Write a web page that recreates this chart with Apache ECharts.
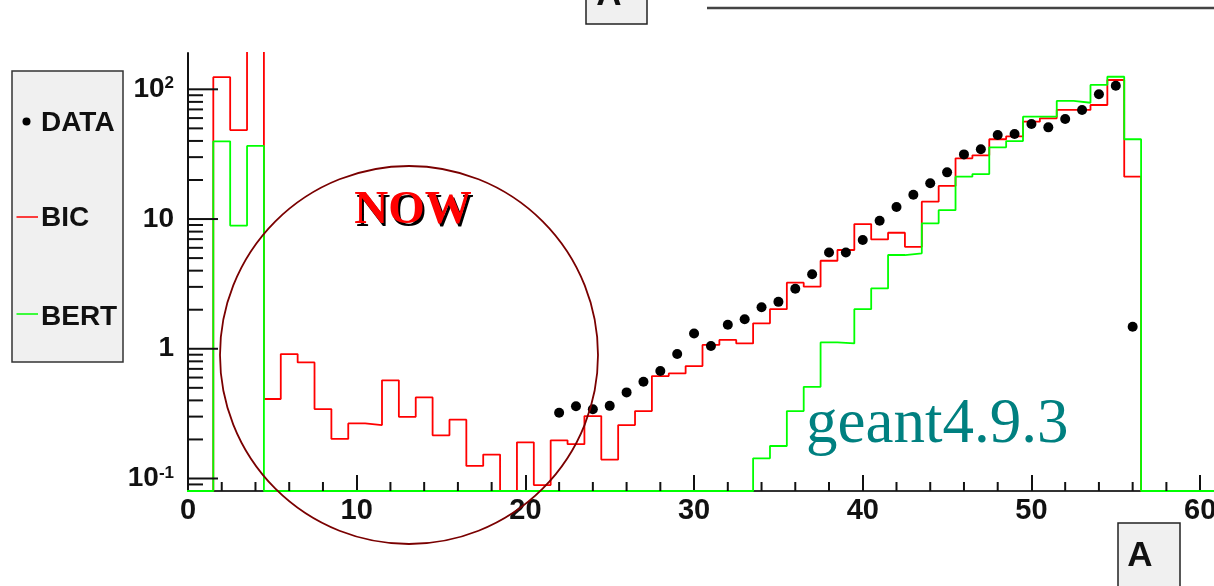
<!DOCTYPE html>
<html>
<head>
<meta charset="utf-8">
<script src="https://cdn.jsdelivr.net/npm/echarts@6/dist/echarts.min.js"></script>
<style>
  html, body { margin: 0; padding: 0; background: #fff; }
  #chart { width: 1214px; height: 586px; }
</style>
</head>
<body>
<div id="chart"></div>
<script>
// Histogram bins: unit width, centred on the integers 0..61
const binCenters = [0,1,2,3,4,5,6,7,8,9,10,11,12,13,14,15,16,17,18,19,20,
  21,22,23,24,25,26,27,28,29,30,31,32,33,34,35,36,37,38,39,40,
  41,42,43,44,45,46,47,48,49,50,51,52,53,54,55,56,57,58,59,60,61];

// BIC model prediction per bin
const bicValues = [0,0,124,48.5,300,0.41,0.91,0.785,0.343,0.202,0.266,0.258,0.571,0.299,0.422,0.215,0.284,0.125,0.153,0,0.19,
  0.089,0.197,0.184,0.303,0.140,0.258,0.331,0.616,0.646,0.736,1.07,1.17,1.10,1.57,2.02,3.23,3.01,4.77,5.77,9.15,
  6.97,7.84,6.11,13.6,18.0,29.4,31.0,41.2,43.4,56.3,59.8,69.3,69.3,75.7,118,21.2,0,0,0,0,0];

// BERT model prediction per bin
const bertValues = [0,0,39.7,8.9,36.6,0,0,0,0,0,0,0,0,0,0,0,0,0,0,0,0,
  0,0,0,0,0,0,0,0,0,0,0,0,0,0.143,0.178,0.331,0.509,1.12,1.10,2.02,
  2.92,5.28,5.44,9.26,11.7,21.2,22.2,35.7,39.9,61.5,61.5,81.3,78.8,108,125,41.2,0,0,0,0,0];

// Measured points
const dataX = [22,23,24,25,26,27,28,29,30,31,32,33,34,35,36,37,38,39,40,
  41,42,43,44,45,46,47,48,49,50,51,52,53,54,55,56];
const dataY = [0.321,0.361,0.342,0.363,0.461,0.557,0.673,0.91,1.31,1.05,1.53,1.69,2.09,2.30,2.90,3.75,5.53,5.53,6.89,
  9.70,12.4,15.4,18.9,22.9,31.5,34.5,44.4,45.2,54.0,50.9,59.0,69.3,91.5,106.6,1.48];

const seriesNames = ['DATA', 'BIC', 'BERT'];
const seriesColors = ['#000000', '#ff0000', '#00ff00'];

// Axis ranges and tick positions
const X_MIN = 0, X_MAX = 61, X_INTERVAL = 10;
const Y_MIN = 0.0801, Y_MAX = 190.5;
const xMinorTicks = [2,4,6,8,12,14,16,18,22,24,26,28,32,34,36,38,42,44,46,48,52,54,56,58];
const yDecades = [-2, -1, 0, 1, 2];

// Empty bins sit on the lower frame edge, as in a histogram drawn on a log scale
function histPoints(values) {
  const pts = [];
  const floor = v => (v > Y_MIN ? v : Y_MIN);
  for (let i = 0; i < binCenters.length; i++) {
    pts.push([binCenters[i] - 0.5, floor(values[i])]);
  }
  const last = binCenters.length - 1;
  pts.push([binCenters[last] + 0.5, floor(values[last])]);
  return pts;
}

const yTickData = [];
yDecades.forEach(e => {
  for (let k = 1; k <= 9; k++) {
    const v = k * Math.pow(10, e);
    if (v >= Y_MIN && v <= Y_MAX) yTickData.push([v, k === 1 ? 1 : 0]);
  }
});

const chart = echarts.init(document.getElementById('chart'), null, { renderer: 'canvas' });

const axisFont = 'Liberation Sans, Arial, Helvetica, sans-serif';
const serifFont = '"Liberation Serif", "Times New Roman", serif';

function powLabel(v) {
  const e = Math.log10(v);
  const r = Math.round(e);
  if (Math.abs(e - r) > 1e-6) return '';
  if (r === 0) return '{b|1}';
  if (r === 1) return '{b|10}';
  return '{b|10}{s|' + r + '}';
}

const option = {
  animation: false,
  backgroundColor: '#ffffff',
  grid: { left: 188, right: -3, top: 53, bottom: 95, outerBoundsMode: 'none', containLabel: false },
  xAxis: {
    type: 'value', min: X_MIN, max: X_MAX, interval: X_INTERVAL,
    axisLine: { show: true, onZero: false, lineStyle: { color: '#333333', width: 2 } },
    axisTick: { show: true, inside: true, length: 16, lineStyle: { color: '#111111', width: 2 } },
    axisLabel: {
      show: true, margin: 5, color: '#111111', fontFamily: axisFont, fontWeight: 'bold', fontSize: 29,
      showMaxLabel: true,
      formatter: v => (Math.abs(v % X_INTERVAL) < 1e-9 ? String(v) : '')
    },
    splitLine: { show: false }
  },
  yAxis: {
    type: 'log', logBase: 10, min: Y_MIN, max: Y_MAX,
    axisLine: { show: true, lineStyle: { color: '#111111', width: 2 } },
    axisTick: { show: false },
    axisLabel: {
      show: true, margin: 14, color: '#111111',
      formatter: powLabel,
      rich: {
        b: { fontFamily: axisFont, fontWeight: 'bold', fontSize: 28, color: '#111111' },
        s: { fontFamily: axisFont, fontWeight: 'bold', fontSize: 17, color: '#111111', verticalAlign: 'top', lineHeight: 17 }
      }
    },
    splitLine: { show: false }
  },
  series: [
    {
      name: seriesNames[1], type: 'line', step: 'end', z: 2,
      data: histPoints(bicValues), showSymbol: false, symbol: 'none',
      lineStyle: { color: seriesColors[1], width: 1.8, opacity: 1 }, clip: true
    },
    {
      name: seriesNames[2], type: 'line', step: 'end', z: 2,
      data: histPoints(bertValues), showSymbol: false, symbol: 'none',
      lineStyle: { color: seriesColors[2], width: 1.8, opacity: 1 }, clip: true
    },
    {
      name: seriesNames[0], type: 'scatter', z: 4,
      data: dataX.map((x, i) => [x, dataY[i]]),
      symbol: 'circle', symbolSize: 10,
      itemStyle: { color: seriesColors[0], opacity: 1 }
    },
    {
      // logarithmic ticks on the vertical axis
      type: 'custom', z: 3, silent: true, clip: false,
      data: yTickData,
      encode: { y: 0 },
      renderItem: (params, api) => {
        const p = api.coord([X_MIN, api.value(0)]);
        const len = api.value(1) ? 30 : 15;
        return { type: 'line', shape: { x1: p[0], y1: p[1], x2: p[0] + len, y2: p[1] },
          style: { stroke: '#111111', lineWidth: 2 } };
      }
    },
    {
      // minor ticks on the horizontal axis
      type: 'custom', z: 3, silent: true, clip: false,
      data: xMinorTicks.map(v => [v]),
      encode: { x: 0 },
      renderItem: (params, api) => {
        const p = api.coord([api.value(0), Y_MIN]);
        return { type: 'line', shape: { x1: p[0], y1: p[1], x2: p[0], y2: p[1] - 9 },
          style: { stroke: '#111111', lineWidth: 2 } };
      }
    }
  ],
  graphic: [
    // legend box
    { type: 'rect', z: 20, shape: { x: 12, y: 71, width: 111, height: 291 },
      style: { fill: '#f0f0f0', stroke: '#333333', lineWidth: 1.5 } },
    { type: 'circle', z: 21, shape: { cx: 26.5, cy: 121.5, r: 4 }, style: { fill: seriesColors[0] } },
    { type: 'text', z: 21, x: 41, y: 123,
      style: { text: seriesNames[0], fill: '#111111', font: 'bold 28px ' + axisFont, verticalAlign: 'middle', align: 'left' } },
    { type: 'line', z: 21, shape: { x1: 16.5, y1: 217, x2: 38, y2: 217 }, style: { stroke: seriesColors[1], lineWidth: 1.5 } },
    { type: 'text', z: 21, x: 41, y: 218,
      style: { text: seriesNames[1], fill: '#111111', font: 'bold 28px ' + axisFont, verticalAlign: 'middle', align: 'left' } },
    { type: 'line', z: 21, shape: { x1: 16.5, y1: 314, x2: 38, y2: 314 }, style: { stroke: seriesColors[2], lineWidth: 1.5 } },
    { type: 'text', z: 21, x: 41, y: 317,
      style: { text: seriesNames[2], fill: '#111111', font: 'bold 28px ' + axisFont, verticalAlign: 'middle', align: 'left' } },

    // highlighted low-energy region
    { type: 'circle', z: 10, shape: { cx: 409, cy: 355, r: 189 },
      style: { fill: 'none', stroke: '#7a0000', lineWidth: 1.8 } },
    { type: 'text', z: 11, x: 415, y: 214,
      style: { text: 'NOW', fill: '#000000', font: 'bold 47px ' + serifFont, align: 'center', verticalAlign: 'middle' } },
    { type: 'text', z: 12, x: 413, y: 211,
      style: { text: 'NOW', fill: '#ff0000', font: 'bold 47px ' + serifFont, align: 'center', verticalAlign: 'middle' } },

    // version tag
    { type: 'text', z: 11, x: 806, y: 425,
      style: { text: 'geant4.9.3', fill: '#008080', font: '63px ' + serifFont, align: 'left', verticalAlign: 'middle' } },

    // axis title boxes and upper frame line
    { type: 'rect', z: 20, shape: { x: 1118, y: 523, width: 62, height: 80 },
      style: { fill: '#f0f0f0', stroke: '#222222', lineWidth: 1.5 } },
    { type: 'text', z: 21, x: 1140, y: 556,
      style: { text: 'A', fill: '#111111', font: 'bold 35px ' + axisFont, align: 'center', verticalAlign: 'middle' } },
    { type: 'rect', z: 20, shape: { x: 586, y: -30, width: 61, height: 54 },
      style: { fill: '#f0f0f0', stroke: '#222222', lineWidth: 1.5 } },
    { type: 'text', z: 21, x: 609, y: -5,
      style: { text: 'A', fill: '#111111', font: 'bold 35px ' + axisFont, align: 'center', verticalAlign: 'middle' } },
    { type: 'line', z: 20, shape: { x1: 707, y1: 8, x2: 1214, y2: 8 }, style: { stroke: '#444444', lineWidth: 2.5 } }
  ]
};

chart.setOption(option);
</script>
</body>
</html>
